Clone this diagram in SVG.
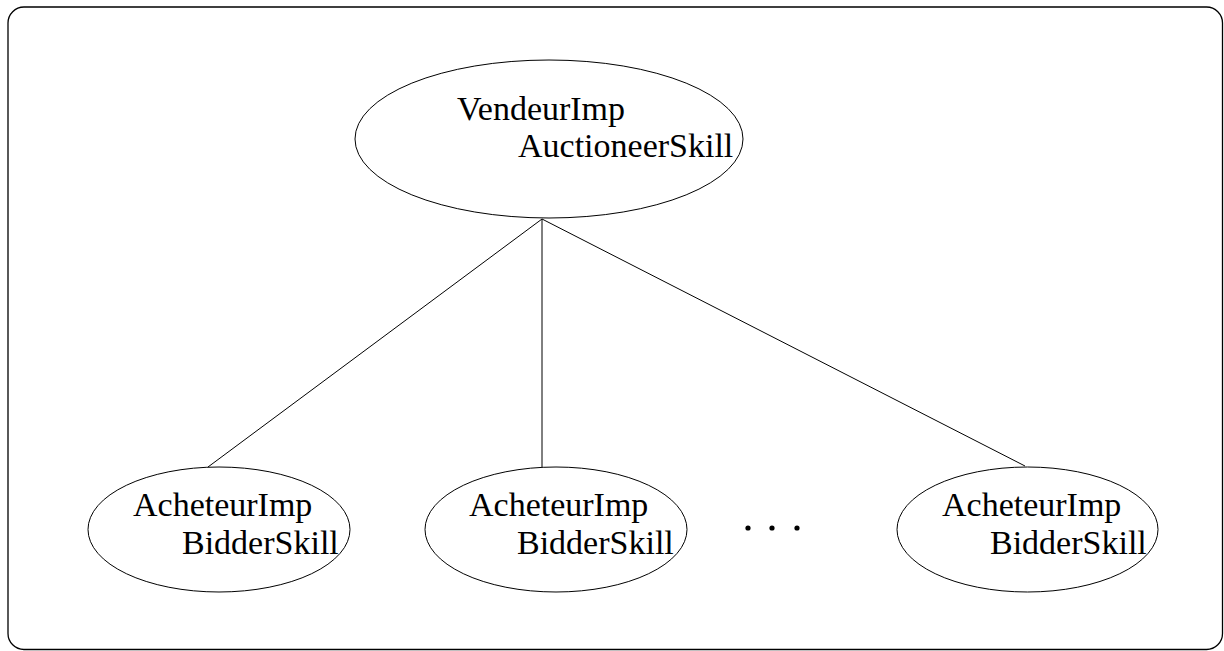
<svg xmlns="http://www.w3.org/2000/svg" width="1224" height="651" viewBox="0 0 1224 651">
  <style>
    .frame { fill: none; stroke: #000; stroke-width: 1.3; }
    .node { fill: #fff; stroke: #000; stroke-width: 1; }
    .label { font-family: "Liberation Serif", "Times New Roman", serif; font-size: 34px; fill: #000; }
    .edge { stroke: #000; stroke-width: 1; fill: none; }
  </style>
  <rect width="1224" height="651" fill="#fff"/>
  <rect class="frame" x="8" y="7" width="1214.5" height="642.5" rx="16" ry="16"/>

  <g id="connectors">
    <line class="edge" x1="542" y1="219" x2="208" y2="467"/>
    <line class="edge" x1="542" y1="219" x2="542" y2="467"/>
    <line class="edge" x1="542" y1="219" x2="1025" y2="466"/>
  </g>

  <g id="vendeur">
    <ellipse class="node" cx="549" cy="139" rx="194" ry="79"/>
    <text class="label" x="457" y="120">VendeurImp</text>
    <text class="label" x="518" y="157">AuctioneerSkill</text>
  </g>

  <g id="acheteur1">
    <ellipse class="node" cx="219" cy="529.5" rx="131" ry="62.5"/>
    <text class="label" x="133" y="516">AcheteurImp</text>
    <text class="label" x="182" y="554">BidderSkill</text>
  </g>

  <g id="acheteur2">
    <ellipse class="node" cx="556" cy="529.5" rx="131" ry="62.5"/>
    <text class="label" x="469" y="516">AcheteurImp</text>
    <text class="label" x="517" y="554">BidderSkill</text>
  </g>

  <g id="ellipsis">
    <circle cx="748" cy="528" r="2.6"/>
    <circle cx="772" cy="528" r="2.6"/>
    <circle cx="797" cy="528" r="2.6"/>
  </g>

  <g id="acheteur3">
    <ellipse class="node" cx="1027.5" cy="529.5" rx="130.5" ry="62.5"/>
    <text class="label" x="942" y="516">AcheteurImp</text>
    <text class="label" x="990" y="554">BidderSkill</text>
  </g>
</svg>
